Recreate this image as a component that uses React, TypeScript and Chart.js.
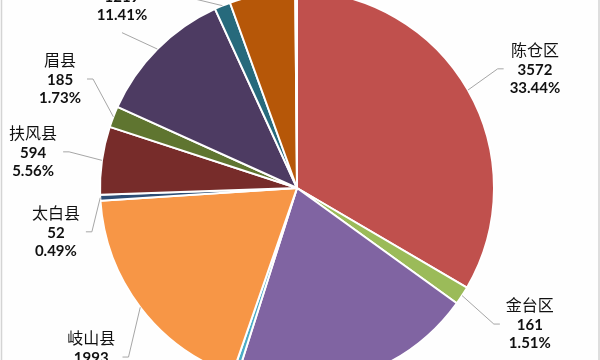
import { useEffect, useRef } from "react";
import { Chart, registerables } from "chart.js";

Chart.register(...registerables);

const categories = ["陈仓区", "金台区", "渭滨区", "凤县", "岐山县", "太白县", "扶风县", "眉县", "凤翔县", "千阳县", "陇县", "麟游县"];
const values = [3572, 161, 2131, 45, 1993, 52, 594, 185, 1219, 140, 575, 15];
const colors = ["#C0504D", "#9BBB59", "#8064A2", "#4BACC6", "#F79646", "#2C4D75", "#772C2A", "#5F7530", "#4D3B62", "#276A7C", "#B65708", "#4F81BD"];

// label placement: angle clockwise from 12 o'clock (deg), distance in pie radii, leader attachment
const labelAngle = [63.4, 120.3, 162, 198.6, 230.6, 259.7, 277.8, 294.7, 317.7, 330.5, 352, 0];
const labelDist = [1.351, 1.369, 1.35, 1.35, 1.352, 1.244, 1.352, 1.324, 1.32, 1.36, 1.35, 1.4];
const labelAttach = ["side", "side", "side", "side", "side", "side", "side", "side", "bottom", "bottom", "side", "side"];

const total = values.reduce((a, b) => a + b, 0);

const NAME_FONT = '16px "Noto Sans CJK SC"';
const NUM_FONT = 'bold 15px Lato, "Noto Sans", sans-serif';

const bgPlugin = {
  id: "bg",
  beforeDraw(chart: any) {
    const ctx = chart.ctx;
    ctx.save();
    ctx.fillStyle = "#fefefe";
    ctx.fillRect(0, 0, chart.width, chart.height);
    ctx.strokeStyle = "#d4d4d4";
    ctx.lineWidth = 1.5;
    ctx.beginPath();
    ctx.moveTo(1.5, 0);
    ctx.lineTo(1.5, chart.height);
    ctx.moveTo(chart.width - 1, 0);
    ctx.lineTo(chart.width - 1, chart.height);
    ctx.stroke();
    ctx.restore();
  },
};

const labelPlugin = {
  id: "pieLabels",
  afterDatasetsDraw(chart: any) {
    const ctx = chart.ctx;
    const meta = chart.getDatasetMeta(0);
    ctx.save();
    meta.data.forEach((el: any, i: number) => {
      const { x, y, startAngle, endAngle, outerRadius } = el.getProps(
        ["x", "y", "startAngle", "endAngle", "outerRadius"],
        true
      );
      const mid = (startAngle + endAngle) / 2;
      const ax = x + Math.cos(mid) * outerRadius;
      const ay = y + Math.sin(mid) * outerRadius;
      const th = ((labelAngle[i] - 90) * Math.PI) / 180;
      const lx = x + Math.cos(th) * outerRadius * labelDist[i];
      const ly = y + Math.sin(th) * outerRadius * labelDist[i];
      const name = categories[i];
      const val = String(values[i]);
      const pct = ((values[i] / total) * 100).toFixed(2) + "%";
      ctx.font = NAME_FONT;
      const w1 = ctx.measureText(name).width;
      ctx.font = NUM_FONT;
      const w2 = ctx.measureText(val).width;
      const w3 = ctx.measureText(pct).width;
      const hw = Math.max(w1, w2, w3) / 2;

      ctx.strokeStyle = "#a6a6a6";
      ctx.lineWidth = 1;
      ctx.beginPath();
      ctx.moveTo(ax, ay);
      if (labelAttach[i] === "bottom") {
        ctx.lineTo(lx, ly + 37);
      } else {
        const right = lx > x;
        const edge = right ? lx - hw : lx + hw;
        const s = right ? -1 : 1;
        ctx.lineTo(edge + s * 12, ly);
        ctx.lineTo(edge + s * 6, ly);
      }
      ctx.stroke();

      ctx.fillStyle = "#111111";
      ctx.textAlign = "center";
      ctx.textBaseline = "middle";
      ctx.font = NAME_FONT;
      ctx.fillText(name, lx, ly - 19);
      ctx.font = NUM_FONT;
      ctx.fillText(val, lx, ly + 1);
      ctx.fillText(pct, lx, ly + 19);
    });
    ctx.restore();
  },
};

export default function App() {
  const ref = useRef<HTMLCanvasElement | null>(null);
  useEffect(() => {
    if (!ref.current) return;
    const chart = new Chart(ref.current, {
      type: "pie",
      data: {
        labels: categories,
        datasets: [
          {
            data: values,
            backgroundColor: colors,
            borderColor: "#ffffff",
            borderWidth: 2,
          },
        ],
      },
      options: {
        responsive: false,
        animation: false,
        radius: 197,
        layout: { padding: { left: 0, right: 6, top: 16, bottom: 0 } },
        plugins: {
          legend: { display: false },
          tooltip: { enabled: false },
        },
      } as any,
      plugins: [bgPlugin, labelPlugin],
    });
    return () => chart.destroy();
  }, []);
  return (
    <div style={{ position: "fixed", left: 0, top: 0, width: 600, height: 360 }}>
      <canvas ref={ref} width={600} height={360} style={{ display: "block" }} />
    </div>
  );
}
